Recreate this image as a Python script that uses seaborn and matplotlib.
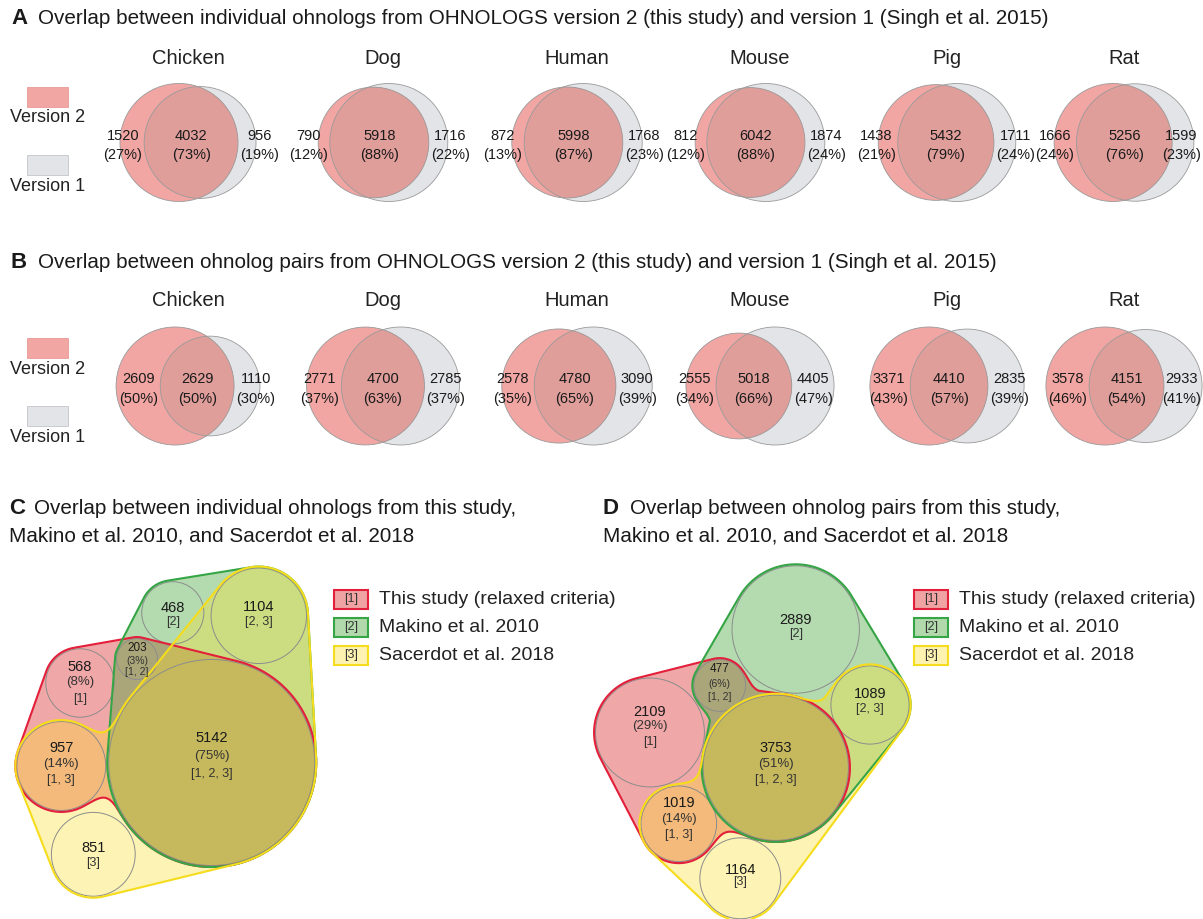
import numpy as np
import matplotlib
matplotlib.use("Agg")
import matplotlib.pyplot as plt
from matplotlib.patches import Circle, Rectangle
import seaborn as sns

sns.set_theme(style="white")
plt.rcParams['font.family'] = ['Liberation Sans', 'DejaVu Sans']

# ---------------- data ----------------
species = ["Chicken", "Dog", "Human", "Mouse", "Pig", "Rat"]

# A: individual ohnologs (only in version 2, in both, only in version 1)
ind_v2_only = [1520, 790, 872, 812, 1438, 1666]
ind_both = [4032, 5918, 5998, 6042, 5432, 5256]
ind_v1_only = [956, 1716, 1768, 1874, 1711, 1599]

# B: ohnolog pairs
pair_v2_only = [2609, 2771, 2578, 2555, 3371, 3578]
pair_both = [2629, 4700, 4780, 5018, 4410, 4151]
pair_v1_only = [1110, 2785, 3090, 4405, 2835, 2933]

set_names = ["This study (relaxed criteria)", "Makino et al. 2010", "Sacerdot et al. 2018"]

# C / D: regions of the three-way overlap
regions = ["1", "2", "1, 2", "2, 3", "1, 3", "1, 2, 3", "3"]
c_counts = [568, 468, 203, 1104, 957, 5142, 851]
d_counts = [2109, 2889, 477, 1089, 1019, 3753, 1164]

# ---------------- style / layout ----------------
PINK = "#f1a6a3"
GREY = "#e3e4e7"
LENS = "#e09e9b"
EDGE = "#9a9a9a"
TXT = "#1a1a1a"

set_fill = [(0.86, 0.14, 0.14), (0.27, 0.65, 0.22), (0.98, 0.87, 0.16)]
set_alpha = [0.40, 0.40, 0.35]
set_edge = ["#e3203b", "#35a546", "#f5dc1c"]

venn_x = [188, 383, 577, 760, 947, 1124]
R_BIG = 59
TITLE_FS = 14.9

fig = plt.figure(figsize=(12.03, 9.19), dpi=100)
ax = fig.add_axes([0, 0, 1, 1])
ax.set_xlim(0, 1203)
ax.set_ylim(919, 0)
ax.axis("off")
renderer = fig.canvas.get_renderer()


def keep_inside(t, xmax=1201):
    # pull a text back inside the right edge of the figure
    bb = t.get_window_extent(renderer)
    if bb.x1 > xmax:
        x, y = t.get_position()
        t.set_x(x - (bb.x1 - xmax))


def lens_area(r1, r2, d):
    if d >= r1 + r2:
        return 0.0
    if d <= abs(r1 - r2):
        return np.pi * min(r1, r2) ** 2
    a1 = r1 ** 2 * np.arccos((d * d + r1 * r1 - r2 * r2) / (2 * d * r1))
    a2 = r2 ** 2 * np.arccos((d * d + r2 * r2 - r1 * r1) / (2 * d * r2))
    a3 = 0.5 * np.sqrt((-d + r1 + r2) * (d + r1 - r2) * (d - r1 + r2) * (d + r1 + r2))
    return a1 + a2 - a3


def draw_venn(xc, yc, a, b, c):
    t1, t2 = a + b, b + c
    big = max(t1, t2)
    r1 = R_BIG * np.sqrt(t1 / big)
    r2 = R_BIG * np.sqrt(t2 / big)
    target = b / t1 * np.pi * r1 ** 2
    lo, hi = abs(r1 - r2) + 1e-6, r1 + r2
    for _ in range(60):
        mid = (lo + hi) / 2
        if lens_area(r1, r2, mid) > target:
            lo = mid
        else:
            hi = mid
    d = (lo + hi) / 2
    x1 = xc - (d + r2 - r1) / 2
    x2 = x1 + d
    ax.add_patch(Circle((x2, yc), r2, fc=GREY, ec="none", zorder=1))
    pink = Circle((x1, yc), r1, fc=PINK, ec="none", zorder=2)
    ax.add_patch(pink)
    lens = Circle((x2, yc), r2, fc=LENS, ec="none", zorder=3)
    ax.add_patch(lens)
    lens.set_clip_path(pink)
    for cx, r in [(x1, r1), (x2, r2)]:
        ax.add_patch(Circle((cx, yc), r, fc="none", ec=EDGE, lw=0.6, zorder=4))
    left, right = x2 - r2, x1 + r1
    kw = dict(va="center", multialignment="center", linespacing=1.5,
              fontsize=10.5, color=TXT, zorder=5)
    ax.text(left - 2, yc + 3, f"{a}\n({round(100 * a / t1)}%)", ha="right", **kw)
    ax.text((left + right) / 2, yc + 3, f"{b}\n({round(100 * b / t1)}%)", ha="center", **kw)
    t = ax.text(right + 2, yc + 3, f"{c}\n({round(100 * c / t2)}%)", ha="left", **kw)
    keep_inside(t)


def venn_row(letter, y_title, y_label, y_circ, y_leg, title, v2, both, v1):
    ax.text(11, y_title, letter, fontsize=16, weight="bold", va="center", color=TXT)
    ax.text(38, y_title, title, fontsize=TITLE_FS, va="center", color=TXT)
    for i, sp in enumerate(species):
        ax.text(venn_x[i], y_label, sp, fontsize=14.5, ha="center", va="center", color="#222222")
        draw_venn(venn_x[i], y_circ, v2[i], both[i], v1[i])
    # legend
    ax.add_patch(Rectangle((27, y_leg), 41, 20, fc=PINK, ec="#e89a97", lw=0.6))
    ax.text(47.5, y_leg + 31, "Version 2", fontsize=13, ha="center", va="center", color="#222222")
    ax.add_patch(Rectangle((27, y_leg + 68), 41, 20, fc=GREY, ec="#c4c5c9", lw=0.6))
    ax.text(47.5, y_leg + 99.5, "Version 1", fontsize=13, ha="center", va="center", color="#222222")


venn_row("A", 19, 58, 142.5, 86.7,
         "Overlap between individual ohnologs from OHNOLOGS version 2 (this study) and version 1 (Singh et al. 2015)",
         ind_v2_only, ind_both, ind_v1_only)
venn_row("B", 262, 301, 386, 338,
         "Overlap between ohnolog pairs from OHNOLOGS version 2 (this study) and version 1 (Singh et al. 2015)",
         pair_v2_only, pair_both, pair_v1_only)


# ---------------- C / D: bubble diagrams ----------------
def sdf_circle(X, Y, c, r):
    return np.hypot(X - c[0], Y - c[1]) - r


def sdf_capsule(X, Y, c1, r1, c2, r2):
    out = np.full(X.shape, np.inf)
    for t in np.linspace(0, 1, 90):
        cx = c1[0] + t * (c2[0] - c1[0])
        cy = c1[1] + t * (c2[1] - c1[1])
        out = np.minimum(out, np.hypot(X - cx, Y - cy) - (r1 + t * (r2 - r1)))
    return out


def smin(a, b, k):
    h = np.maximum(k - np.abs(a - b), 0.0) / k
    return np.minimum(a, b) - h * h * k * 0.25


def bubble_panel(counts, centers, scale, links, text_dy, small, box_x, extent):
    radii = {reg: scale * np.sqrt(n) for reg, n in zip(regions, counts)}
    x0, x1, y0, y1 = extent
    X, Y = np.meshgrid(np.arange(x0, x1, 0.75), np.arange(y0, y1, 0.75))
    fields = []
    for caps, fillets, members in links:
        F = np.full(X.shape, np.inf)
        for m in members:
            F = np.minimum(F, sdf_circle(X, Y, centers[m], radii[m]))
        for p, q in caps:
            F = np.minimum(F, sdf_capsule(X, Y, centers[p], radii[p], centers[q], radii[q]))
        for p, q in fillets:
            F = np.minimum(F, smin(sdf_circle(X, Y, centers[p], radii[p]),
                                   sdf_circle(X, Y, centers[q], radii[q]), 32))
        fields.append(F)
    for k, F in enumerate(fields):
        ax.contourf(X, Y, F, levels=[F.min() - 1, 1.5], colors=[set_fill[k]],
                    alpha=set_alpha[k], zorder=1 + k * 0.1)
    for reg in regions:
        ax.add_patch(Circle(centers[reg], radii[reg], fc="none", ec="#8c8c8c", lw=0.7, zorder=2))
    for k, F in enumerate(fields):
        ax.contour(X, Y, F, levels=[1.5], colors=[set_edge[k]], linewidths=1.5, zorder=3 + k * 0.1)

    total1 = sum(n for reg, n in zip(regions, counts) if "1" in reg)
    for reg, n in zip(regions, counts):
        cx, cy = centers[reg]
        dys = text_dy[reg]
        fs = (8.5, 7.5, 7.5) if reg in small else (10.5, 9.5, 9)
        ax.text(cx, cy + dys[0], str(n), fontsize=fs[0], ha="center", va="center", color=TXT, zorder=5)
        if "1" in reg:
            ax.text(cx, cy + dys[1], f"({round(100 * n / total1)}%)", fontsize=fs[1],
                    ha="center", va="center", color="#333333", zorder=5)
        ax.text(cx, cy + dys[-1], f"[{reg}]", fontsize=fs[2], ha="center", va="center",
                color="#333333", zorder=5)

    for k, name in enumerate(set_names):
        yb = 589.5 + 28 * k
        ax.add_patch(Rectangle((box_x, yb), 34, 19, fc=set_fill[k], alpha=set_alpha[k] + 0.02,
                               ec="none", zorder=4))
        ax.add_patch(Rectangle((box_x, yb), 34, 19, fc="none", ec=set_edge[k], lw=1.5, zorder=4))
        ax.text(box_x + 17, yb + 9.5, f"[{k + 1}]", fontsize=9, ha="center", va="center",
                color="#333333", zorder=5)
        ax.text(box_x + 45, yb + 9.5, name, fontsize=14, ha="left", va="center",
                color="#222222", zorder=5)


c_centers = {"1": (80, 683), "2": (172.8, 612.8), "1, 2": (137, 659), "2, 3": (258.8, 615.8),
             "1, 3": (61.3, 766), "1, 2, 3": (211.7, 762.5), "3": (93.3, 854.3)}
c_links = [
    ([("1", "1, 3"), ("1", "1, 2"), ("1, 2", "1, 2, 3"), ("1", "1, 2, 3")],
     [("1, 3", "1, 2, 3")], ["1", "1, 2", "1, 3", "1, 2, 3"]),
    ([("2", "2, 3"), ("2", "1, 2"), ("1, 2", "1, 2, 3"), ("2, 3", "1, 2, 3"), ("2", "1, 2, 3")],
     [], ["2", "1, 2", "2, 3", "1, 2, 3"]),
    ([("2, 3", "1, 2, 3"), ("1, 2, 3", "3"), ("3", "1, 3")],
     [("1, 3", "1, 2, 3")], ["2, 3", "1, 3", "1, 2, 3", "3"]),
]
c_dy = {"1": (-16, -1, 16), "2": (-5, 9), "1, 2": (-11, 2, 13), "2, 3": (-9, 6),
        "1, 3": (-18, -2, 14), "1, 2, 3": (-25, -7, 12), "3": (-6, 9)}

d_centers = {"1": (650, 732.5), "2": (795.7, 629.5), "1, 2": (719.7, 685.5), "2, 3": (870, 705),
             "1, 3": (678.8, 823.8), "1, 2, 3": (775.8, 767.8), "3": (740.3, 878.3)}
d_links = [
    ([("1", "1, 2"), ("1", "1, 3"), ("1", "1, 2, 3")],
     [("1, 2", "1, 2, 3"), ("1, 3", "1, 2, 3")], ["1", "1, 2", "1, 3", "1, 2, 3"]),
    ([("2", "1, 2"), ("2", "2, 3"), ("2, 3", "1, 2, 3"), ("2", "1, 2, 3")],
     [("1, 2", "1, 2, 3")], ["2", "1, 2", "2, 3", "1, 2, 3"]),
    ([("1, 3", "3"), ("3", "2, 3")],
     [("2, 3", "1, 2, 3"), ("1, 2, 3", "1, 3"), ("3", "1, 2, 3")], ["2, 3", "1, 3", "1, 2, 3", "3"]),
]
d_dy = {"1": (-21, -6, 10), "2": (-10, 5), "1, 2": (-16.5, -1.5, 12), "2, 3": (-11, 4),
        "1, 3": (-21, -5, 11), "1, 2, 3": (-20, -4, 12), "3": (-8, 4)}

bubble_panel(c_counts, c_centers, 103 / np.sqrt(5142), c_links, c_dy, ["1, 2"], 334.3,
             (0, 340, 555, 919))
bubble_panel(d_counts, d_centers, 72.6 / np.sqrt(3753), d_links, d_dy, ["1, 2"], 914.3,
             (580, 935, 555, 919))

# titles C / D
ax.text(9, 508, "C", fontsize=16, weight="bold", va="center", color=TXT)
ax.text(34, 508, "Overlap between individual ohnologs from this study,", fontsize=TITLE_FS,
        va="center", color=TXT)
ax.text(9, 536, "Makino et al. 2010, and Sacerdot et al. 2018", fontsize=TITLE_FS,
        va="center", color=TXT)
ax.text(603, 508, "D", fontsize=16, weight="bold", va="center", color=TXT)
ax.text(630, 508, "Overlap between ohnolog pairs from this study,", fontsize=TITLE_FS,
        va="center", color=TXT)
ax.text(603, 536, "Makino et al. 2010, and Sacerdot et al. 2018", fontsize=TITLE_FS,
        va="center", color=TXT)

fig.savefig("out.png", dpi=100, facecolor="white")
